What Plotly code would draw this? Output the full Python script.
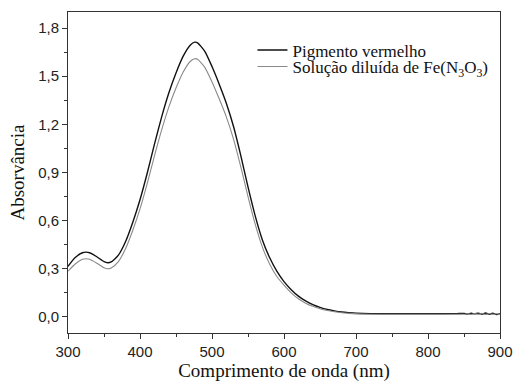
import plotly.graph_objects as go

wavelength = [300, 310, 320, 325, 330, 340, 350, 355, 360, 370, 380, 390, 400, 410, 420,
              430, 440, 450, 460, 470, 476, 480, 490, 500, 510, 520, 530, 540, 550, 560,
              570, 580, 590, 600, 610, 620, 630, 640, 650, 660, 670, 680, 690, 700, 720,
              750, 800, 840, 850, 855, 860, 865, 870, 875, 880, 885, 890, 895, 900]

pigmento = [0.315, 0.37, 0.40, 0.404, 0.40, 0.375, 0.345, 0.338, 0.343, 0.385, 0.47, 0.59, 0.73, 0.895, 1.075,
            1.245, 1.395, 1.52, 1.625, 1.695, 1.712, 1.708, 1.655, 1.56, 1.45, 1.33, 1.185, 1.005, 0.81, 0.63,
            0.48, 0.37, 0.285, 0.22, 0.17, 0.13, 0.10, 0.077, 0.06, 0.047, 0.038, 0.031, 0.027, 0.024, 0.021,
            0.020, 0.020, 0.021, 0.022, 0.018, 0.023, 0.019, 0.024, 0.017, 0.025, 0.016, 0.024, 0.015, 0.021]

solucao = [0.285, 0.330, 0.359, 0.363, 0.359, 0.335, 0.307, 0.300, 0.305, 0.345, 0.426, 0.540, 0.673, 0.831, 1.002,
           1.164, 1.307, 1.426, 1.526, 1.593, 1.609, 1.605, 1.555, 1.464, 1.359, 1.245, 1.107, 0.935, 0.750, 0.578,
           0.435, 0.330, 0.252, 0.198, 0.150, 0.113, 0.086, 0.066, 0.051, 0.040, 0.032, 0.026, 0.022, 0.019, 0.017,
           0.016, 0.016, 0.017, 0.017, 0.020, 0.015, 0.021, 0.016, 0.022, 0.015, 0.021, 0.016, 0.020, 0.017]

name_black = "Pigmento vermelho"
name_gray = "Solução diluída de Fe(N<sub>3</sub>O<sub>3</sub>)"

x_ticks = [300, 400, 500, 600, 700, 800, 900]
y_ticks = [0.0, 0.3, 0.6, 0.9, 1.2, 1.5, 1.8]

SANS = "Liberation Sans"
SERIF = "Liberation Serif"

fig = go.Figure()
fig.add_trace(go.Scatter(x=wavelength, y=pigmento, mode="lines", name=name_black, legend="legend",
                         line=dict(color="#111111", width=1.4, shape="spline", smoothing=0.6)))
fig.add_trace(go.Scatter(x=wavelength, y=solucao, mode="lines", name=name_gray, legend="legend2",
                         line=dict(color="#8a8a8a", width=1.1, shape="spline", smoothing=0.6)))

axis_common = dict(showline=True, linecolor="#333333", linewidth=1, mirror=True,
                   showgrid=False, zeroline=False, ticks="outside", ticklen=5,
                   tickcolor="#333333", tickwidth=1, automargin=False,
                   tickfont=dict(family=SANS, size=15, color="#222222"))

legend_common = dict(xanchor="left", yanchor="middle", bgcolor="rgba(0,0,0,0)", borderwidth=0,
                     font=dict(family=SERIF, size=17, color="#111111"), itemwidth=30)

fig.update_layout(
    width=516, height=384,
    margin=dict(l=68, r=16, t=12, b=51, autoexpand=False),
    paper_bgcolor="white", plot_bgcolor="white",
    separators=",.",
    showlegend=True,
    legend=dict(x=0.427, y=0.880, **legend_common),
    legend2=dict(x=0.427, y=0.829, **legend_common),
    xaxis=dict(range=[300, 900], tickvals=x_ticks,
               minor=dict(dtick=50, tick0=300, ticks="outside", ticklen=3, tickcolor="#333333"),
               title=dict(text="Comprimento de onda (nm)", standoff=4,
                          font=dict(family=SERIF, size=19, color="#111111")),
               **axis_common),
    yaxis=dict(range=[-0.1, 1.9], tickvals=y_ticks, tickformat=".1f",
               minor=dict(dtick=0.15, tick0=0, ticks="outside", ticklen=3, tickcolor="#333333"),
               title=dict(text="Absorvância", standoff=8,
                          font=dict(family=SERIF, size=19, color="#111111")),
               **axis_common),
    xaxis2=dict(range=[300, 900], overlaying="x", side="top", anchor="y",
                dtick=50, tick0=300, ticks="inside", ticklen=3, tickcolor="#333333",
                showticklabels=False, showgrid=False, zeroline=False, showline=False),
    yaxis2=dict(range=[-0.1, 1.9], overlaying="y", side="right", anchor="x",
                dtick=0.15, tick0=0, ticks="inside", ticklen=3, tickcolor="#333333",
                showticklabels=False, showgrid=False, zeroline=False, showline=False),
)

fig.write_html("out.html", config={"displayModeBar": False},
               post_script="document.body.style.margin='0';document.documentElement.style.margin='0';"
                           "document.body.style.overflow='hidden';")
